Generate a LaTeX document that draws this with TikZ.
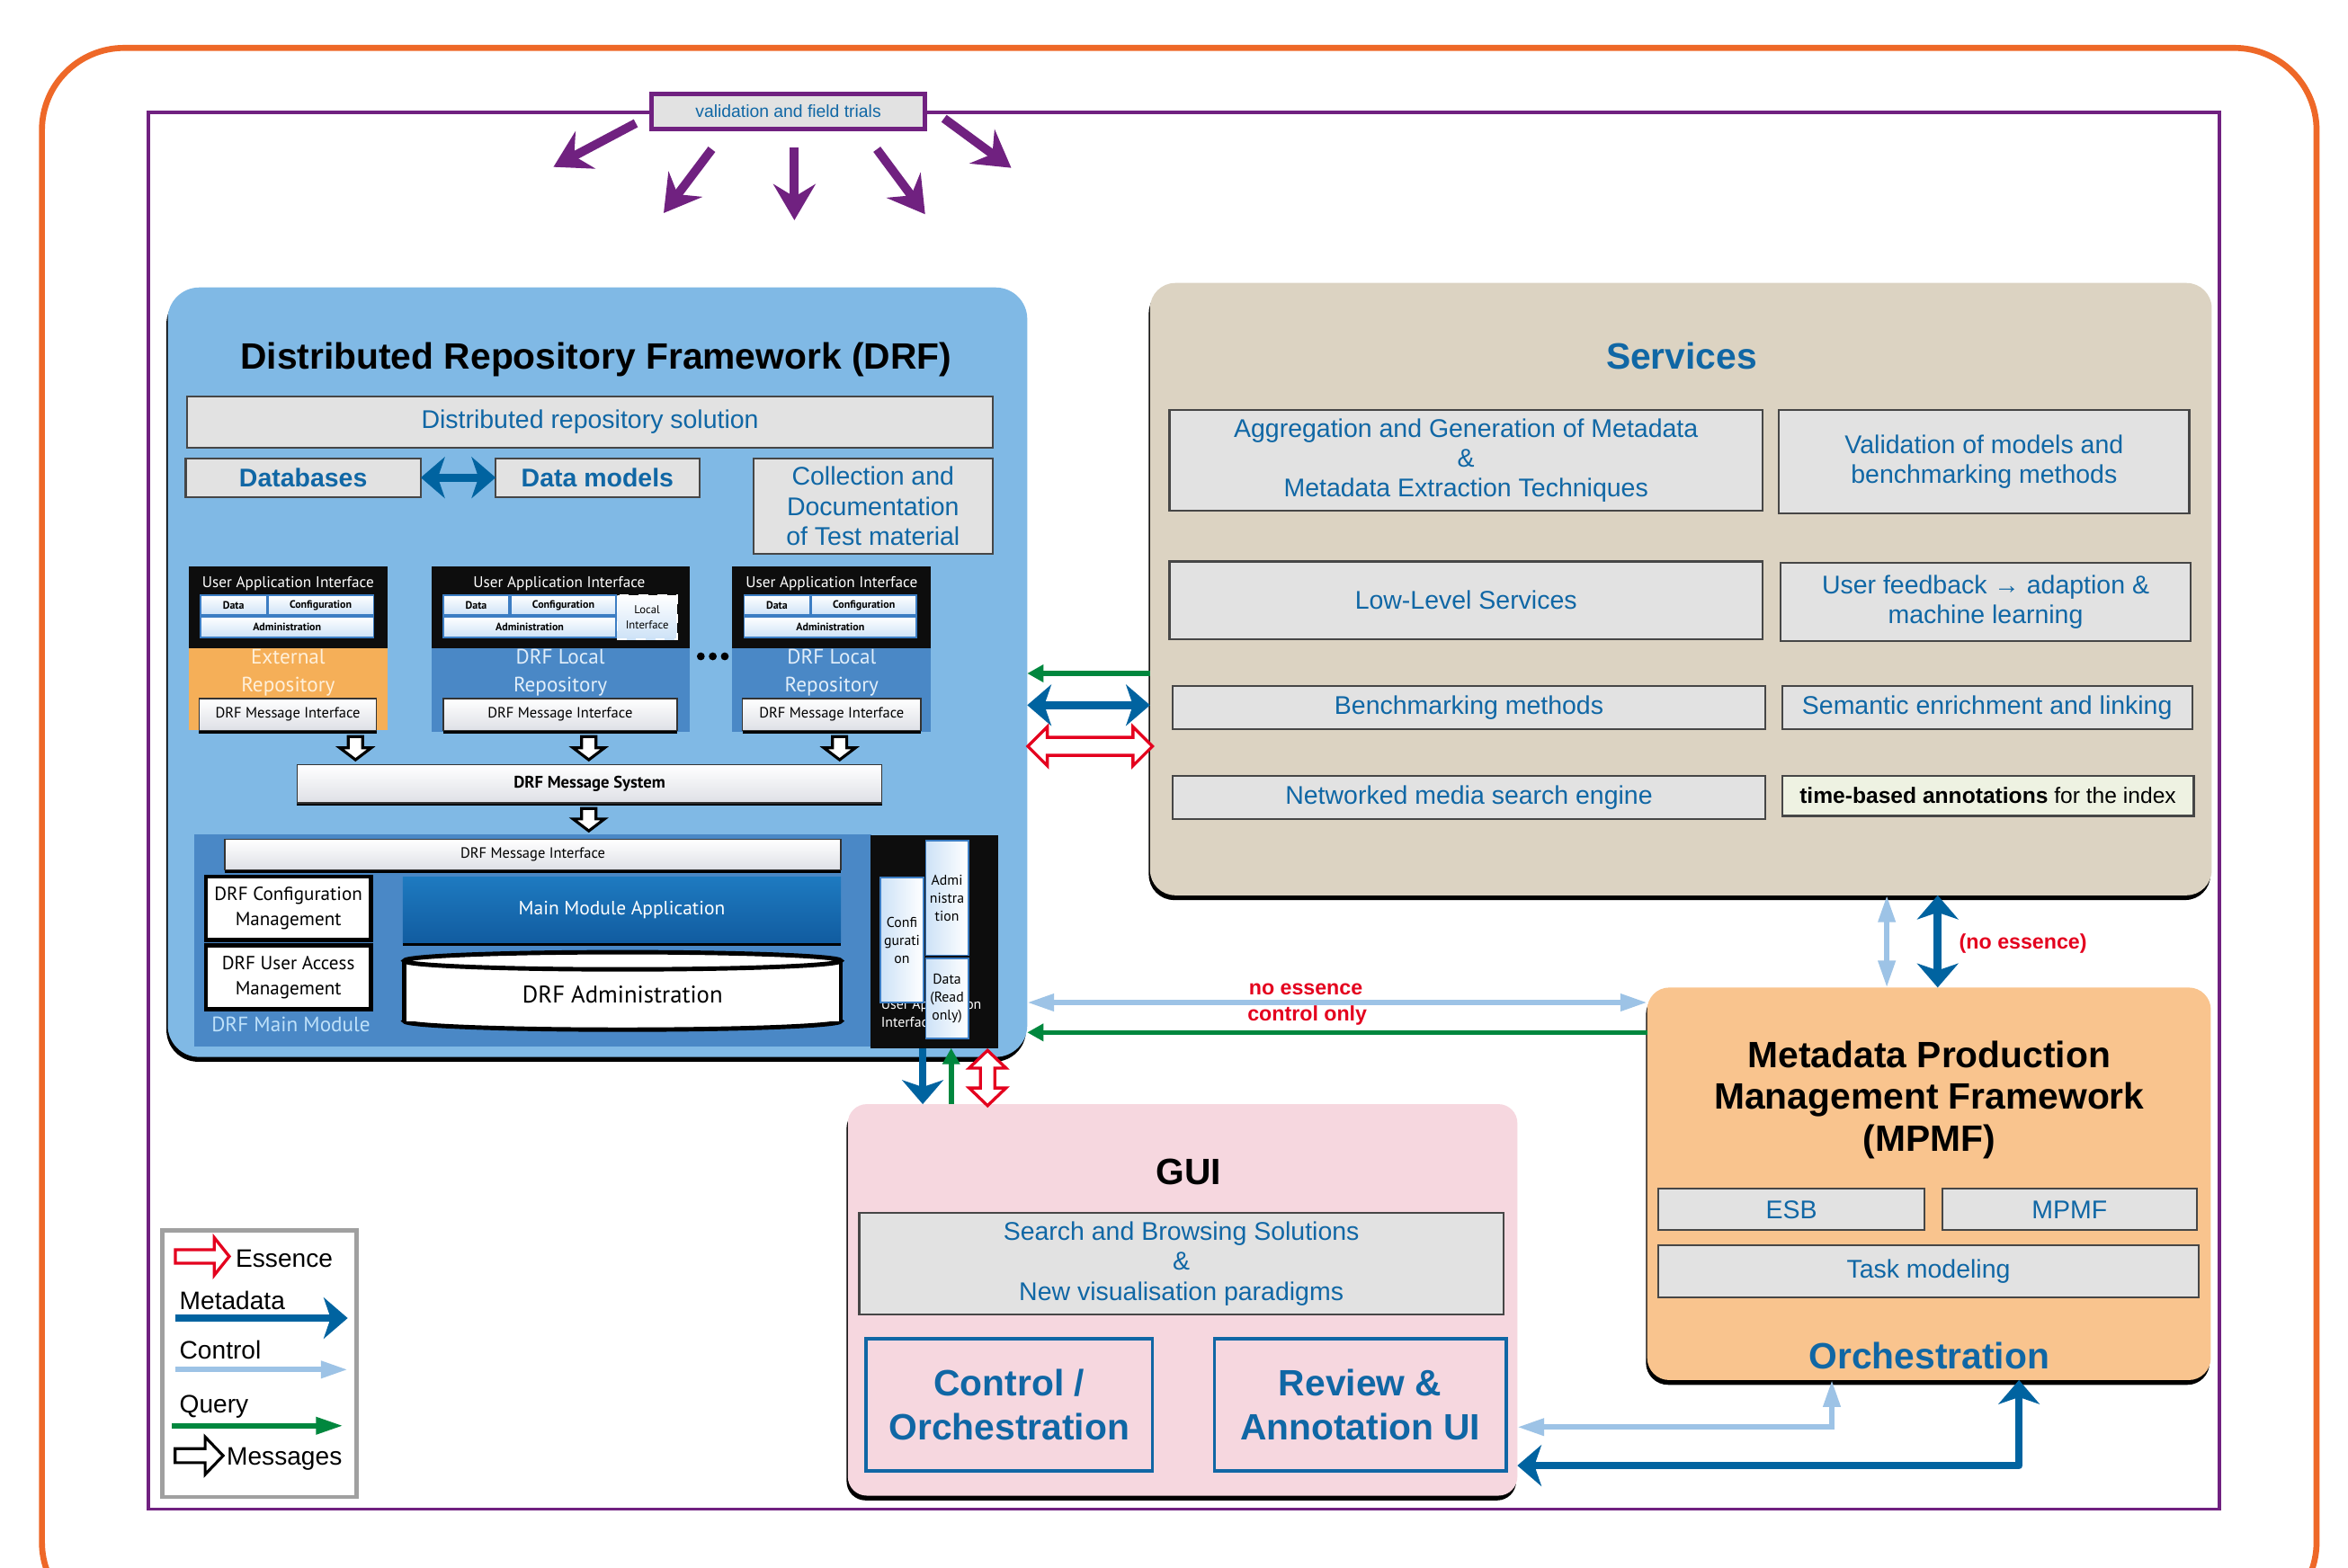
\documentclass[tikz,border=0pt]{standalone}
\usepackage{fontspec}
\setmainfont{Liberation Sans}
\newfontfamily\dfont{PT Sans}
\usetikzlibrary{arrows.meta,shadows}
\newcommand{\pxu}{0.016652cm}
\newcommand{\fsz}[2]{\fontsize{#1pt}{#2pt}\selectfont}
\definecolor{orangeline}{RGB}{238,104,40}
\definecolor{purp}{RGB}{112,33,128}
\definecolor{drfblue}{RGB}{128,185,229}
\definecolor{midblue}{RGB}{74,136,198}
\definecolor{appblueA}{RGB}{30,122,192}
\definecolor{appblueB}{RGB}{17,92,160}
\definecolor{servfill}{RGB}{220,211,194}
\definecolor{mpmffill}{RGB}{249,196,142}
\definecolor{guifill}{RGB}{246,215,223}
\definecolor{gfill}{RGB}{226,226,226}
\definecolor{gborder}{RGB}{70,70,70}
\definecolor{tblue}{RGB}{16,103,165}
\definecolor{mblue}{RGB}{0,99,160}
\definecolor{cblue}{RGB}{157,195,230}
\definecolor{qgreen}{RGB}{0,135,62}
\definecolor{ered}{RGB}{228,0,30}
\definecolor{extorange}{RGB}{245,175,88}
\definecolor{uifill}{RGB}{205,226,247}
\definecolor{uiborder}{RGB}{60,125,195}
\definecolor{msggray}{RGB}{222,224,230}
\definecolor{paleblue}{RGB}{225,238,250}
\definecolor{paleorange}{RGB}{255,240,218}
\definecolor{modtext}{RGB}{190,225,250}
\definecolor{greenish}{RGB}{238,242,226}
\definecolor{leggray}{RGB}{160,160,160}
\tikzset{
  mtip/.tip={Stealth[length=7.6pt,width=13pt,inset=2.2pt]},
  ctip/.tip={Triangle[length=8.5pt,width=5.2pt]},
  qtip/.tip={Triangle[length=5.1pt,width=5.3pt]},
  ptip/.tip={Stealth[length=11.4pt,width=13.3pt,inset=4pt]},
}
% hollow block arrows: [style]{x}{ytop}{ybot}{shaft half}{head half}{head length}
\newcommand{\hollowdown}[7][]{%
  \draw[#1] ({#2-#5},#3) -- ({#2+#5},#3) -- ({#2+#5},{#4-#7}) -- ({#2+#6},{#4-#7}) -- (#2,#4) -- ({#2-#6},{#4-#7}) -- ({#2-#5},{#4-#7}) -- cycle;}
% [style]{y}{x1}{x2}{sh}{hh}{hl}
\newcommand{\hollowright}[7][]{%
  \draw[#1] (#3,{#2-#5}) -- ({#4-#7},{#2-#5}) -- ({#4-#7},{#2-#6}) -- (#4,#2) -- ({#4-#7},{#2+#6}) -- ({#4-#7},{#2+#5}) -- (#3,{#2+#5}) -- cycle;}
\newcommand{\hollowhdbl}[7][]{%
  \draw[#1] (#3,#2) -- ({#3+#7},{#2-#6}) -- ({#3+#7},{#2-#5}) -- ({#4-#7},{#2-#5}) -- ({#4-#7},{#2-#6}) -- (#4,#2) -- ({#4-#7},{#2+#6}) -- ({#4-#7},{#2+#5}) -- ({#3+#7},{#2+#5}) -- ({#3+#7},{#2+#6}) -- cycle;}
% [style]{x}{y1}{y2}{sh}{hh}{hl}
\newcommand{\hollowvdbl}[7][]{%
  \draw[#1] (#2,#3) -- ({#2+#6},{#3+#7}) -- ({#2+#5},{#3+#7}) -- ({#2+#5},{#4-#7}) -- ({#2+#6},{#4-#7}) -- (#2,#4) -- ({#2-#6},{#4-#7}) -- ({#2-#5},{#4-#7}) -- ({#2-#5},{#3+#7}) -- ({#2-#6},{#3+#7}) -- cycle;}

\begin{document}
\begin{tikzpicture}[x=0.016652cm, y=-0.016652cm,
  rect at/.style n args={4}{at={({(#1+#3)/2},{(#2+#4)/2})}, minimum width={(#3-#1)*\pxu}, minimum height={(#4-#2)*\pxu}},
  base/.style={rectangle, inner sep=0pt, outer sep=0pt},
  gbox/.style={base, draw=gborder, fill=gfill, line width=0.6pt, text=tblue, font=\fsz{8.1}{9.5}, align=center},
  uibox/.style={base, draw=uiborder, line width=0.45pt, top color=white, bottom color=uifill, font=\dfont\bfseries\fsz{3.4}{4.2}, align=center},
  pbox/.style={base, draw=uiborder, line width=0.5pt, left color=uifill, right color=white, font=\dfont\fsz{4.5}{5.7}, align=center},
  msgif/.style={base, draw=black!80, line width=0.4pt, top color=white, bottom color=msggray, font=\dfont\fsz{4.7}{5.2}, drop shadow={shadow xshift=0pt, shadow yshift=-0.9pt, opacity=1, fill=black}},
  meta/.style={draw=mblue, line width=2.46pt},
  ctrl/.style={draw=cblue, line width=1.7pt},
  qry/.style={draw=qgreen, line width=1.6pt},
  purparrow/.style={draw=purp, line width=2.8pt, -ptip},
  essence/.style={draw=ered, fill=white, line width=0.95pt},
  msg/.style={draw=black, fill=white, line width=0.9pt},
  bigshadow/.style={drop shadow={shadow xshift=-0.4pt, shadow yshift=-1.5pt, opacity=1, fill=black}},
  leg/.style={anchor=west, inner sep=0pt, font=\fsz{8}{9}},
  redlab/.style={text=ered, font=\bfseries\fsz{6.6}{7}},
  btitle/.style={font=\bfseries\fsz{11.6}{13.3}, align=center},
]
\fill[white] (0,0) rectangle (1568,1047);
\useasboundingbox (0,0) rectangle (1568,1047);

% frames
\draw[orangeline, line width=1.9pt, rounded corners=26pt] (28,32) rectangle (1547,1085);
\draw[purp, line width=1.1pt] (99,75) rectangle (1482,1008);

% validation
\node[base, rect at={435}{62.5}{617.8}{85.9}, draw=purp, line width=1.4pt, fill=gfill, text=tblue, font=\fsz{5.5}{6}] (valid) {validation and field trials};
\coordinate (v1) at (369.6,111.5);
\coordinate (v2) at (443.2,142.3);
\coordinate (v3) at (530.5,147.1);
\coordinate (v4) at (617.8,143.1);
\coordinate (v5) at (675.3,112.1);
\draw[purparrow] (424.6,82.3) -- (v1);
\draw[purparrow] (475.3,99.7) -- (v2);
\draw[purparrow] (530.5,98.5) -- (v3);
\draw[purparrow] (585.6,99.7) -- (v4);
\draw[purparrow] (630.4,79.1) -- (v5);

% ================= DRF =================
\node[base, rect at={112}{192}{686}{706}, fill=drfblue, rounded corners=10pt, bigshadow] (drf) {};
\node[btitle] (drftitle) at (398,240) {Distributed Repository Framework (DRF)};
\node[gbox, rect at={125}{265}{663}{299}] (drs) {Distributed repository solution};
\node[gbox, rect at={124}{306}{281}{332}, font=\bfseries\fsz{8.1}{9.5}] (dbs) {Databases};
\node[gbox, rect at={331}{306}{467}{332}, font=\bfseries\fsz{8.1}{9.5}] (dms) {Data models};
\draw[meta, mtip-mtip] (dbs.east) -- (dms.west);
\node[gbox, rect at={503}{306}{663}{370}] (coll) {Collection and\\Documentation\\of Test material};

% repository block 1 (external)
\node[base, rect at={126}{378.3}{258.8}{432.7}, fill=black!95] (uai1) {};
\node[base, rect at={126}{432.7}{258.8}{487.9}, fill=extorange] (ext1) {};
\node[text=white, font=\dfont\fsz{4.9}{5.5}] at (192.4,389.5) {User Application Interface};
\node[uibox, rect at={133.9}{397.6}{178}{410.9}] (d1) {Data};
\node[uibox, rect at={178.8}{397.6}{249.5}{410.9}] (c1) {Configuration};
\node[uibox, rect at={133.9}{412}{249.5}{425.8}] (a1) {Administration};
\node[text=paleorange, font=\dfont\fsz{6.6}{8.86}, align=center] at (192.4,449.3) {External\\Repository};
\node[msgif, rect at={132.9}{466.5}{251.5}{487.9}] (mi1) {DRF Message Interface};

% repository block 2
\node[base, rect at={288}{378.3}{460.4}{432.7}, fill=black!95] (uai2) {};
\node[base, rect at={288}{432.7}{460.4}{489}, fill=midblue] (loc2) {};
\node[text=white, font=\dfont\fsz{4.9}{5.5}] at (373.5,389.5) {User Application Interface};
\node[uibox, rect at={296}{397.6}{340}{410.9}] (d2) {Data};
\node[uibox, rect at={341}{397.6}{411.5}{410.9}] (c2) {Configuration};
\node[uibox, rect at={296}{412}{411.5}{425.8}] (a2) {Administration};
\node[base, rect at={412.2}{397.6}{452.1}{427}, draw=white, dashed, line width=0.5pt, top color=white, bottom color=uifill, font=\dfont\fsz{3.6}{4.6}, align=center] (li2) {Local\\Interface};
\node[text=paleblue, font=\dfont\fsz{6.6}{8.86}, align=center] at (374.2,449.3) {DRF Local\\Repository};
\node[msgif, rect at={296}{466.5}{452.1}{488}] (mi2) {DRF Message Interface};

\fill (468,438.4) circle[radius=1.25pt] (476,438.4) circle[radius=1.25pt] (484,438.4) circle[radius=1.25pt];

% repository block 3
\node[base, rect at={489}{378.3}{621.7}{432.7}, fill=black!95] (uai3) {};
\node[base, rect at={489}{432.7}{621.7}{489}, fill=midblue] (loc3) {};
\node[text=white, font=\dfont\fsz{4.9}{5.5}] at (555.4,389.5) {User Application Interface};
\node[uibox, rect at={496.9}{397.6}{540.7}{410.9}] (d3) {Data};
\node[uibox, rect at={541.8}{397.6}{612.1}{410.9}] (c3) {Configuration};
\node[uibox, rect at={496.9}{412}{612.1}{425.8}] (a3) {Administration};
\node[text=paleblue, font=\dfont\fsz{6.6}{8.86}, align=center] at (555.4,449.3) {DRF Local\\Repository};
\node[msgif, rect at={495.9}{466.5}{614.9}{488}] (mi3) {DRF Message Interface};

% message arrows
\hollowdown[msg]{237.4}{492}{507.5}{4.8}{10.5}{8}
\hollowdown[msg]{393.2}{492}{507.5}{4.8}{10.5}{8}
\hollowdown[msg]{560.7}{492}{507.5}{4.8}{10.5}{8}
\node[msgif, rect at={198.4}{510.9}{589}{536.2}, font=\dfont\bfseries\fsz{5.3}{6}] (msys) {DRF Message System};
\hollowdown[msg]{393.2}{540}{555}{4.8}{10.5}{8}

% main module
\node[base, rect at={129.5}{557.5}{582}{699.3}, fill=midblue] (mm) {};
\node[base, rect at={581.5}{558}{666.6}{700}, fill=black!95] (bp) {};
\node[msgif, rect at={150.2}{560.7}{561.5}{581}] (mmi) {DRF Message Interface};
\node[base, rect at={137.4}{585.5}{247.7}{628}, draw=black, line width=1.3pt, fill=white, font=\dfont\fsz{6}{7.9}, align=center] (cfgm) {DRF Configuration\\Management};
\node[base, rect at={137.4}{631.5}{247.7}{674}, draw=black, line width=1.3pt, fill=white, font=\dfont\fsz{6}{7.9}, align=center] (uacm) {DRF User Access\\Management};
\node[base, rect at={269}{586}{561.5}{629.7}, top color=appblueA, bottom color=appblueB, text=white, font=\dfont\fsz{6.1}{7}, drop shadow={shadow xshift=0pt, shadow yshift=-1pt, opacity=1, fill=black}] (mma) {Main Module Application};
% cylinder
\filldraw[fill=white, draw=black, line width=1.4pt] (415.75,682) ellipse [x radius=69.06pt, y radius=2.72pt];
\fill[white] (270,641.75) rectangle (561.5,682);
\draw[black, line width=1.4pt] (270,641.75) -- (270,682) (561.5,641.75) -- (561.5,682);
\filldraw[fill=white, draw=black, line width=1.4pt] (415.75,641.75) ellipse [x radius=69.06pt, y radius=2.72pt];
\node[font=\dfont\fsz{7.6}{8.5}] (drfadm) at (415.75,664) {DRF Administration};
\node[text=modtext, font=\dfont\fsz{6.6}{7.5}] (mmlabel) at (194.3,684.4) {DRF Main Module};
% right panel
\node[text=white, font=\dfont\fsz{4.5}{5.7}, align=left, anchor=north west, inner sep=0pt] (uaip) at (588,667) {User Application\\Interface};
\node[pbox, rect at={588.1}{586.1}{616.6}{669.6}] (pconf) {Confi\\gurati\\on};
\node[pbox, rect at={618.2}{561.5}{646.6}{638}] (padm) {Admi\\nistra\\tion};
\node[pbox, rect at={618.2}{640}{646.6}{693.6}] (pdata) {Data\\(Read\\only)};

% ================= Services =================
\node[base, rect at={768}{189}{1477}{598}, fill=servfill, rounded corners=8pt, bigshadow] (serv) {};
\node[btitle, text=tblue] (servtitle) at (1123,238) {Services};
\node[gbox, rect at={781}{274}{1177}{341}] (agg) {Aggregation and Generation of Metadata\\\&\\Metadata Extraction Techniques};
\node[gbox, rect at={1188}{274}{1462}{343}] (valm) {Validation of models and\\benchmarking methods};
\node[gbox, rect at={781}{375}{1177}{427}] (low) {Low-Level Services};
\node[gbox, rect at={1189}{376}{1463}{428}] (ufb) {User feedback → adaption \&\\machine learning};
\node[gbox, rect at={783}{458}{1179}{487}] (bench) {Benchmarking methods};
\node[gbox, rect at={1190}{458}{1464}{487}] (sem) {Semantic enrichment and linking};
\node[gbox, rect at={783}{518}{1179}{547}] (net) {Networked media search engine};
\node[gbox, rect at={1190}{518}{1465}{545}, fill=greenish, text=black, font=\fsz{7}{8}] (tba) {\textbf{time-based annotations} for the index};

% ================= MPMF =================
\node[base, rect at={1100}{659.6}{1476.4}{921.8}, fill=mpmffill, rounded corners=7pt, bigshadow] (mpmf) {};
\node[btitle] (mpmftitle) at (1288.4,734.6) {Metadata Production\\Management Framework\\(MPMF)};
\node[gbox, rect at={1107.4}{794}{1285.4}{821.7}] (esb) {ESB};
\node[gbox, rect at={1297.2}{794}{1466.9}{821.7}] (mpmfb) {MPMF};
\node[gbox, rect at={1107.4}{831.7}{1468.3}{866.8}] (task) {Task modeling};
\node[btitle, text=tblue] (orch) at (1288.4,905.8) {Orchestration};

% ================= GUI =================
\node[base, rect at={566.2}{737.5}{1013.3}{999}, fill=guifill, rounded corners=6pt, bigshadow] (gui) {};
\node[btitle] (guititle) at (793.7,782.7) {GUI};
\node[gbox, rect at={573.8}{810}{1004}{878}] (search) {Search and Browsing Solutions\\\&\\New visualisation paradigms};
\node[base, rect at={578.3}{894.2}{769.6}{982.5}, draw=tblue, line width=1pt, text=tblue, font=\bfseries\fsz{11.6}{13.8}, align=center] (ctl) {Control /\\Orchestration};
\node[base, rect at={811}{894.2}{1005.8}{982.5}, draw=tblue, line width=1pt, text=tblue, font=\bfseries\fsz{11.6}{13.8}, align=center] (rev) {Review \&\\Annotation UI};

% ================= connectors =================
\coordinate (yq1) at (0,449.8);
\coordinate (ym1) at (0,471);
\coordinate (yc2) at (0,669.6);
\coordinate (yq2) at (0,689.6);
\coordinate (xc3) at (1260,0);
\coordinate (xm3) at (1294,0);
\coordinate (xm4) at (616.2,0);
\coordinate (xq4) at (635.2,0);
\coordinate (xc5) at (1223.3,0);
\coordinate (yc5) at (0,953.2);
\coordinate (xm5) at (1348.3,0);
\coordinate (ym5) at (0,978.9);

% DRF <-> Services
\draw[qry, -qtip] (serv.west |- yq1) -- (drf.east |- yq1);
\draw[meta, mtip-mtip] (serv.west |- ym1) -- (drf.east |- ym1);
\hollowhdbl[essence]{498.5}{686.4}{769.6}{6}{13}{13}

% Services <-> MPMF
\draw[ctrl, ctip-ctip] (serv.south -| xc3) -- (mpmf.north -| xc3);
\draw[meta, mtip-mtip] (serv.south -| xm3) -- (mpmf.north -| xm3);
\node[redlab] (noess1) at (1351,630) {(no essence)};

% DRF <-> MPMF
\draw[ctrl, ctip-ctip] (drf.east |- yc2) -- (mpmf.west |- yc2);
\draw[qry, -qtip] (mpmf.west |- yq2) -- (drf.east |- yq2);
\node[redlab] (noess2) at (872,661) {no essence};
\node[redlab] (ctlonly) at (873,678) {control only};

% DRF <-> GUI
\draw[meta, -mtip] (bp.south -| xm4) -- (gui.north -| xm4);
\draw[qry, -qtip] (gui.north -| xq4) -- (bp.south -| xq4);
\hollowvdbl[essence]{659.5}{701.6}{738.5}{4.8}{12.3}{11.8}

% MPMF <-> GUI
\draw[ctrl, ctip-ctip] (mpmf.south -| xc5) |- (gui.east |- yc5);
\draw[meta, mtip-mtip, line join=round] (mpmf.south -| xm5) |- (gui.east |- ym5);

% ================= legend =================
\node[base, rect at={108.5}{821.7}{238.2}{999.9}, draw=leggray, line width=1.3pt, fill=white] (legend) {};
\hollowright[essence]{839.2}{117.1}{153.1}{4.5}{12.5}{10}
\node[leg] (lgess) at (157,840.7) {Essence};
\node[leg] (lgmeta) at (119.5,868.8) {Metadata};
\coordinate (lm1) at (117,880.4);
\coordinate (lm2) at (232.2,880.4);
\draw[meta, -mtip] (lm1) -- (lm2);
\node[leg] (lgctl) at (119.5,901.8) {Control};
\coordinate (lc1) at (117,914.8);
\coordinate (lc2) at (232.2,914.8);
\draw[ctrl, -ctip] (lc1) -- (lc2);
\node[leg] (lgq) at (119.5,939.8) {Query};
\coordinate (lq1) at (115,952.3);
\coordinate (lq2) at (229,952.3);
\draw[qry, -{Triangle[length=8.5pt,width=5.2pt]}] (lq1) -- (lq2);
\hollowright[msg]{972.3}{117}{149}{4.7}{12.5}{12}
\node[leg] (lgmsg) at (151,974.5) {Messages};
\end{tikzpicture}
\end{document}
